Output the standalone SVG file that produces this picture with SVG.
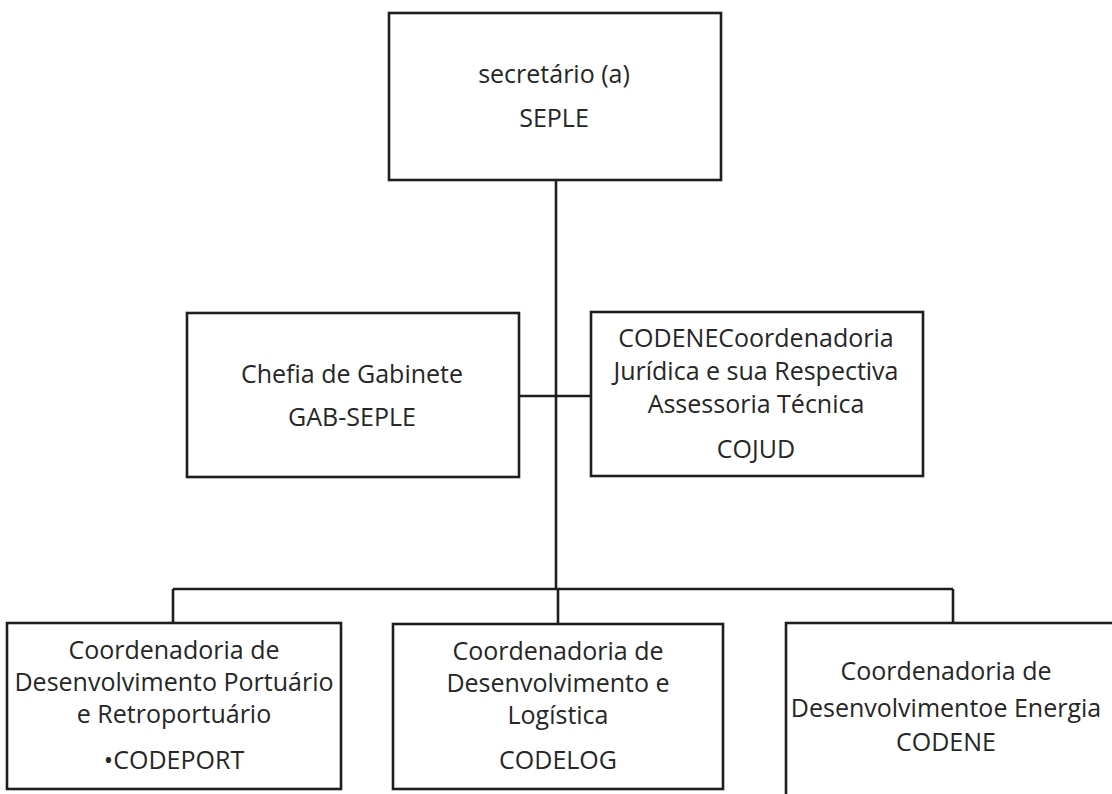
<svg xmlns="http://www.w3.org/2000/svg" width="1112" height="794" viewBox="0 0 1112 794">
<style>
.box{fill:#fff;stroke:#1e1e1e;stroke-width:2.6}
.con{fill:none;stroke:#1e1e1e;stroke-width:2.6}
text{font-family:"Open Sans","Liberation Sans",sans-serif;font-size:25px;fill:#262626;text-anchor:middle}
</style>
<rect width="1112" height="794" fill="#fff"/>
<g id="connectors">
<path class="con" d="M556 180 V589"/>
<path class="con" d="M519 396 H591"/>
<path class="con" d="M173 589 H953"/>
<path class="con" d="M173 589 V623"/>
<path class="con" d="M558 589 V624"/>
<path class="con" d="M953 589 V623"/>
</g>
<g id="n-seple">
<rect class="box" x="389" y="13" width="332" height="167"/>
<text x="554" y="83">secretário (a)</text>
<text x="554" y="127">SEPLE</text>
</g>
<g id="n-gab">
<rect class="box" x="187" y="313" width="332" height="164"/>
<text x="352" y="383">Chefia de Gabinete</text>
<text x="352" y="426">GAB-SEPLE</text>
</g>
<g id="n-cojud">
<rect class="box" x="591" y="312" width="332" height="164"/>
<text x="756" y="347">CODENECoordenadoria</text>
<text x="756" y="380">Jurídica e sua Respectiva</text>
<text x="756" y="413">Assessoria Técnica</text>
<text x="756" y="458">COJUD</text>
</g>
<g id="n-codeport">
<rect class="box" x="7" y="623" width="334" height="166"/>
<text x="174" y="659">Coordenadoria de</text>
<text x="174" y="691">Desenvolvimento Portuário</text>
<text x="174" y="723">e Retroportuário</text>
<text x="174" y="769">•CODEPORT</text>
</g>
<g id="n-codelog">
<rect class="box" x="393" y="624" width="330" height="165"/>
<text x="558" y="660">Coordenadoria de</text>
<text x="558" y="692">Desenvolvimento e</text>
<text x="558" y="724">Logística</text>
<text x="558" y="769">CODELOG</text>
</g>
<g id="n-codene">
<rect class="box" x="786" y="623" width="340" height="185"/>
<text x="946" y="680">Coordenadoria de</text>
<text x="946" y="717">Desenvolvimentoe Energia</text>
<text x="946" y="751">CODENE</text>
</g>
</svg>
